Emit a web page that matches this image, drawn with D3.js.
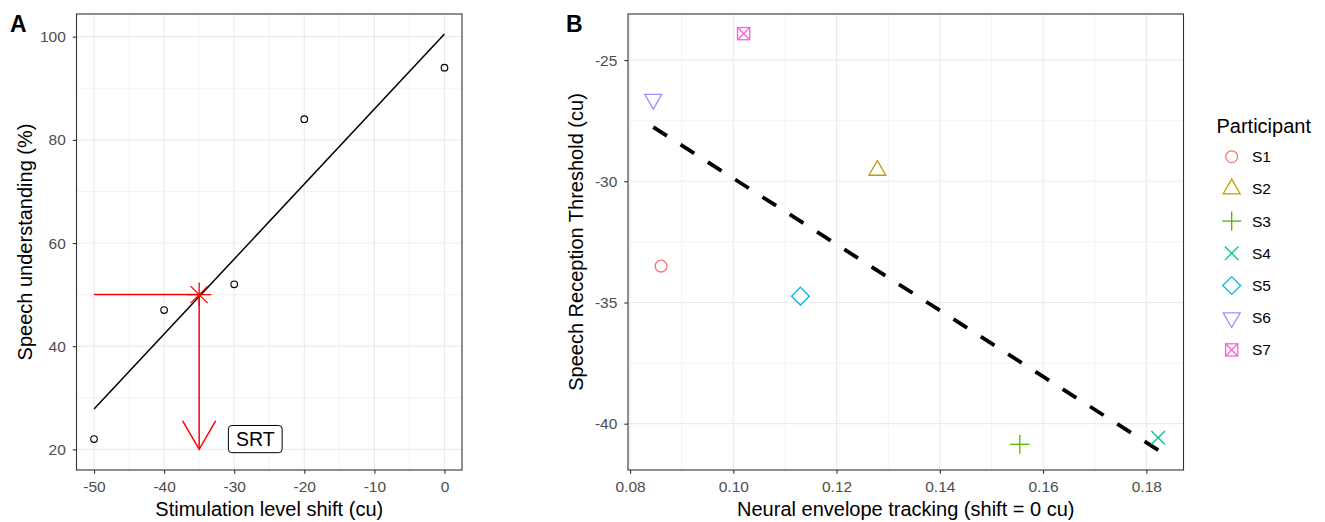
<!DOCTYPE html>
<html><head><meta charset="utf-8">
<script src="https://cdn.jsdelivr.net/npm/d3@7"></script>
<style>
body{margin:0;background:#fff;}
svg{display:block;font-family:"Liberation Sans",Arial,Helvetica,sans-serif;}
</style></head><body>
<svg id="c" width="1325" height="522"></svg>
<script>
// ---------- Panel A data ----------
const shiftLevels = [-50, -40, -30, -20, 0];
const understanding = [22, 47, 52, 84, 94];
const srtPoint = [-35, 50];          // SRT (shift, % understanding)
const guideStartX = [-50];           // horizontal guide start
const guideEndY = [20];              // arrow tip level
const srtLabelText = ["SRT"];
const srtLabelPos = [-27, 22];
const xTicksA = [-50, -40, -30, -20, -10, 0];
const yTicksA = [20, 40, 60, 80, 100];

// ---------- Panel B data ----------
const participants = ["S1", "S2", "S3", "S4", "S5", "S6", "S7"];
const envelopeTracking = [0.0860, 0.1279, 0.1555, 0.1823, 0.1130, 0.0845, 0.1020];
const srtValues = [-33.5, -29.55, -40.85, -40.58, -34.74, -26.62, -23.91];
const xTicksB = [0.08, 0.10, 0.12, 0.14, 0.16, 0.18];
const yTicksB = [-40, -35, -30, -25];

// ---------- styles ----------
const palette = ["#F8766D", "#C49A00", "#53B400", "#00C094", "#00B6EB", "#A58AFF", "#FB61D7"];
const shapes = ["circle", "triangle", "plus", "cross", "diamond", "triangleDown", "squareCross"];

const svg = d3.select("#c");

function lm(xs, ys) {
  const mx = d3.mean(xs), my = d3.mean(ys);
  let sxy = 0, sxx = 0;
  xs.forEach((x, i) => { sxy += (x - mx) * (ys[i] - my); sxx += (x - mx) * (x - mx); });
  const b = sxy / sxx;
  return x => my + b * (x - mx);
}
const mids = t => d3.pairs(t).map(p => (p[0] + p[1]) / 2);

function panel(x, y, xt, yt, xf, yf) {
  const g = svg.append("g");
  const [x0, x1] = x.range(), [y0, y1] = y.range();
  g.append("rect").attr("x", x0).attr("y", y1).attr("width", x1 - x0).attr("height", y0 - y1).attr("fill", "#fff");
  // minor grid
  mids(xt).forEach(v => g.append("line").attr("x1", x(v)).attr("x2", x(v)).attr("y1", y0).attr("y2", y1)
    .attr("stroke", "#EBEBEB").attr("stroke-width", 0.6));
  mids(yt).forEach(v => g.append("line").attr("y1", y(v)).attr("y2", y(v)).attr("x1", x0).attr("x2", x1)
    .attr("stroke", "#EBEBEB").attr("stroke-width", 0.6));
  xt.forEach(v => g.append("line").attr("x1", x(v)).attr("x2", x(v)).attr("y1", y0).attr("y2", y1)
    .attr("stroke", "#EBEBEB").attr("stroke-width", 1.15));
  yt.forEach(v => g.append("line").attr("y1", y(v)).attr("y2", y(v)).attr("x1", x0).attr("x2", x1)
    .attr("stroke", "#EBEBEB").attr("stroke-width", 1.15));
  // axes
  const ax = g.append("g").attr("transform", `translate(0,${y0})`)
    .call(d3.axisBottom(x).tickValues(xt).tickFormat(xf).tickSize(3.7).tickSizeOuter(0).tickPadding(7));
  const ay = g.append("g").attr("transform", `translate(${x0},0)`)
    .call(d3.axisLeft(y).tickValues(yt).tickFormat(yf).tickSize(3.7).tickSizeOuter(0).tickPadding(7));
  [ax, ay].forEach(a => {
    a.attr("font-family", null).attr("font-size", null);
    a.select(".domain").remove();
    a.selectAll(".tick line").attr("stroke", "#333333").attr("stroke-width", 1.1);
    a.selectAll(".tick text").attr("fill", "#4D4D4D").attr("font-size", 15.5);
  });
  const data = svg.append("g");
  return {g, data, border: () => svg.append("rect").attr("x", x0).attr("y", y1).attr("width", x1 - x0)
    .attr("height", y0 - y1).attr("fill", "none").attr("stroke", "#333333").attr("stroke-width", 1.1)};
}

function shape(g, type, cx, cy, color) {
  const s = g.append("g").attr("transform", `translate(${cx},${cy})`)
    .attr("fill", "none").attr("stroke", color).attr("stroke-width", 1.3);
  const line = (a, b, c, d) => s.append("line").attr("x1", a).attr("y1", b).attr("x2", c).attr("y2", d);
  if (type === "circle") s.append("circle").attr("r", 5.9);
  else if (type === "triangle") { const r = 9.8, xc = r * 0.866, yc = r / 2;
    s.append("path").attr("d", `M0,${-r}L${xc},${yc}L${-xc},${yc}Z`); }
  else if (type === "triangleDown") { const r = 9.8, xc = r * 0.866, yc = r / 2;
    s.append("path").attr("d", `M0,${r}L${xc},${-yc}L${-xc},${-yc}Z`); }
  else if (type === "plus") { const h = 9.6; line(-h, 0, h, 0); line(0, -h, 0, h); }
  else if (type === "cross") { const h = 6.8; line(-h, -h, h, h); line(-h, h, h, -h); }
  else if (type === "diamond") { const h = 8.9; s.append("path").attr("d", `M0,${-h}L${h},0L0,${h}L${-h},0Z`); }
  else if (type === "squareCross") { const h = 6.1;
    s.append("rect").attr("x", -h).attr("y", -h).attr("width", 2 * h).attr("height", 2 * h);
    line(-h, -h, h, h); line(-h, h, h, -h); }
}

const fmtInt = d => String(d);

// ================= Panel A =================
const xA = d3.scaleLinear().domain([-52.5, 2.5]).range([76.5, 462]);
const yA = d3.scaleLinear().domain([16, 104.4]).range([470, 14]);
const pA = panel(xA, yA, xTicksA, yTicksA, fmtInt, fmtInt);
const fitA = lm(shiftLevels, understanding);
const xExtA = d3.extent(shiftLevels);
pA.data.append("line").attr("x1", xA(xExtA[0])).attr("y1", yA(fitA(xExtA[0])))
  .attr("x2", xA(xExtA[1])).attr("y2", yA(fitA(xExtA[1])))
  .attr("stroke", "#000").attr("stroke-width", 1.5);
pA.data.selectAll("circle.pt").data(shiftLevels).join("circle").attr("class", "pt")
  .attr("cx", d => xA(d)).attr("cy", (d, i) => yA(understanding[i])).attr("r", 3.3)
  .attr("fill", "none").attr("stroke", "#000").attr("stroke-width", 1.15);
// SRT guides
const red = "#FF0000";
const sx = xA(srtPoint[0]), sy = yA(srtPoint[1]);
pA.data.append("line").attr("x1", xA(guideStartX[0])).attr("x2", sx).attr("y1", sy).attr("y2", sy)
  .attr("stroke", red).attr("stroke-width", 1.5);
const tipY = yA(guideEndY[0]);
pA.data.append("line").attr("x1", sx).attr("x2", sx).attr("y1", sy).attr("y2", tipY)
  .attr("stroke", red).attr("stroke-width", 1.5);
const aLen = 33, aAng = Math.PI / 6;
pA.data.append("path")
  .attr("d", `M${sx - aLen * Math.sin(aAng)},${tipY - aLen * Math.cos(aAng)}L${sx},${tipY}L${sx + aLen * Math.sin(aAng)},${tipY - aLen * Math.cos(aAng)}`)
  .attr("fill", "none").attr("stroke", red).attr("stroke-width", 1.5);
// asterisk
{
  const s = pA.data.append("g").attr("transform", `translate(${sx},${sy})`).attr("stroke", red).attr("stroke-width", 1.3);
  const h = 12, d = 8.5;
  s.append("line").attr("x1", -h).attr("x2", h);
  s.append("line").attr("y1", -h).attr("y2", h);
  s.append("line").attr("x1", -d).attr("y1", -d).attr("x2", d).attr("y2", d);
  s.append("line").attr("x1", -d).attr("y1", d).attr("x2", d).attr("y2", -d);
}
// SRT label
{
  const t = pA.data.append("text").attr("x", xA(srtLabelPos[0])).attr("y", yA(srtLabelPos[1]))
    .attr("dy", "0.36em").attr("text-anchor", "middle").attr("font-size", 19.5).attr("fill", "#000")
    .text(srtLabelText[0]);
  const bb = t.node().getBBox();
  const px = 7.5, py = 2.6;
  pA.data.insert("rect", "text").attr("x", bb.x - px).attr("y", bb.y - py)
    .attr("width", bb.width + 2 * px).attr("height", bb.height + 2 * py).attr("rx", 3.5)
    .attr("fill", "#fff").attr("stroke", "#000").attr("stroke-width", 1);
}
pA.border();

// ================= Panel B =================
const xB = d3.scaleLinear().domain([0.0796, 0.1872]).range([628, 1183.5]);
const yB = d3.scaleLinear().domain([-41.91, -23.10]).range([470, 14]);
const pB = panel(xB, yB, xTicksB, yTicksB, d3.format(".2f"), fmtInt);
const fitB = lm(envelopeTracking, srtValues);
const xExtB = d3.extent(envelopeTracking);
pB.data.append("line").attr("x1", xB(xExtB[0])).attr("y1", yB(fitB(xExtB[0])))
  .attr("x2", xB(xExtB[1])).attr("y2", yB(fitB(xExtB[1])))
  .attr("stroke", "#000").attr("stroke-width", 3.8).attr("stroke-dasharray", "16.2,16.2");
participants.forEach((p, i) => shape(pB.data, shapes[i], xB(envelopeTracking[i]), yB(srtValues[i]), palette[i]));
pB.border();

// ================= labels =================
svg.append("text").attr("x", 10).attr("y", 32).attr("font-size", 23).attr("font-weight", "bold").text("A");
svg.append("text").attr("x", 566).attr("y", 32).attr("font-size", 23).attr("font-weight", "bold").text("B");
svg.append("text").attr("x", (76.5 + 462) / 2).attr("y", 516).attr("text-anchor", "middle").attr("font-size", 20)
  .text("Stimulation level shift (cu)");
svg.append("text").attr("transform", "translate(32,242) rotate(-90)").attr("text-anchor", "middle").attr("font-size", 20)
  .text("Speech understanding (%)");
svg.append("text").attr("x", (628 + 1183.5) / 2).attr("y", 516).attr("text-anchor", "middle").attr("font-size", 20)
  .text("Neural envelope tracking (shift = 0 cu)");
svg.append("text").attr("transform", "translate(583,242) rotate(-90)").attr("text-anchor", "middle").attr("font-size", 20)
  .text("Speech Reception Threshold (cu)");

// ================= legend =================
const lg = svg.append("g");
lg.append("text").attr("x", 1216.5).attr("y", 132.5).attr("font-size", 20).text("Participant");
participants.forEach((p, i) => {
  const cy = 156.7 + i * 32.2;
  shape(lg, shapes[i], 1231.7, cy, palette[i]);
  lg.append("text").attr("x", 1252).attr("y", cy).attr("dy", "0.36em").attr("font-size", 15.5).text(p);
});
</script>
</body></html>
